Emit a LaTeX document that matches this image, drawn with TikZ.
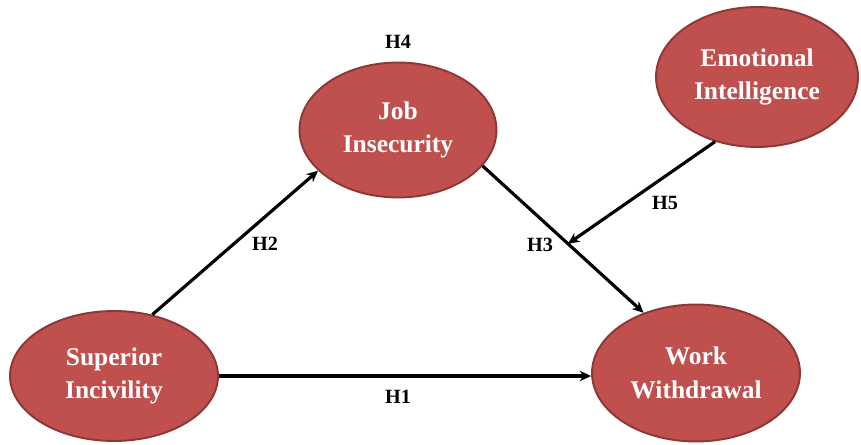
\documentclass[tikz,border=0pt]{standalone}
\usepackage{fontspec}
\setmainfont{Liberation Serif}
\usetikzlibrary{shapes.geometric}
\usetikzlibrary{arrows.meta}

\definecolor{varfill}{RGB}{192,80,77}
\definecolor{varline}{RGB}{140,56,54}

\tikzset{
  var/.style={ellipse,draw=varline,line width=1.1pt,fill=varfill,text=white,
    align=center,inner sep=0pt,font=\fontsize{14.5}{19}\selectfont\bfseries},
  hyp/.style={font=\fontsize{11.5}{14}\selectfont\bfseries},
  path/.style={line width=1.8pt,-{Stealth[length=6.5pt,width=6pt]}}
}

\begin{document}
\begin{tikzpicture}[x=0.02cm,y=-0.02cm]
  \useasboundingbox (0,0) rectangle (861,445);
  \node[var,minimum width=4.16cm,minimum height=2.6cm] (si) at (114,376) {Superior\\Incivility};
  \node[var,minimum width=3.94cm,minimum height=2.7cm] (ji) at (398,130) {Job\\Insecurity};
  \node[var,minimum width=4.04cm,minimum height=2.8cm] (ei) at (757,77) {Emotional\\Intelligence};
  \node[var,minimum width=4.16cm,minimum height=2.74cm] (ww) at (696,373) {Work\\Withdrawal};

  \draw[path] (si.east) -- (si.east -| ww.west);
  \draw[path] (si.58.6) -- (ji.207.8);
  \draw[path] (ji.337.4) -- coordinate[pos=0.53] (mod) (ww.131.6);
  \draw[path] (ei.237.6) -- (mod);

  \node[hyp] (h1) at (398,397) {H1};
  \node[hyp] (h2) at (265,244) {H2};
  \node[hyp] (h3) at (540,245) {H3};
  \node[hyp] (h4) at (398,42) {H4};
  \node[hyp] (h5) at (665,203) {H5};
\end{tikzpicture}
\end{document}
